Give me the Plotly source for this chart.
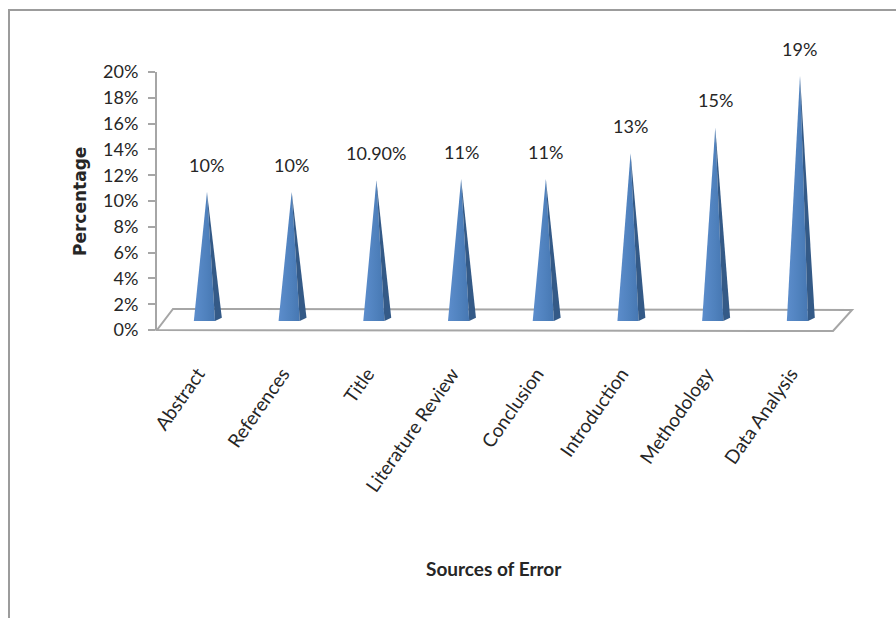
import plotly.graph_objects as go

# Sources of error and their share (%)
categories = ["Abstract", "References", "Title", "Literature Review",
              "Conclusion", "Introduction", "Methodology", "Data Analysis"]
values = [10, 10, 10.9, 11, 11, 13, 15, 19]
y_ticks = [0, 2, 4, 6, 8, 10, 12, 14, 16, 18, 20]

FONT = "Lato, Carlito, Calibri, Liberation Sans, sans-serif"
FRONT = "#4F81BD"
SIDE = "#345A87"

W, H = 896, 618
L, R, T, B = 157, 44, 72, 288          # plot area: x 157..852, y 72..330
PW, PH = W - L - R, H - T - B
X0, X1 = -0.59, 7.614                  # category index range
DEPTH_Y = 0.7                          # pyramids sit slightly behind the front edge


def fmt(v):
    return f"{v:.0f}%" if float(v).is_integer() else f"{v:.2f}%"


def px_x(px):
    return (px - L) / PW


def px_y(py):
    return (T + PH - py) / PH


fig = go.Figure()

# keeps the percentage axis attached to the subplot
fig.add_trace(go.Scatter(x=[None], y=[None], yaxis="y", mode="markers",
                         hoverinfo="skip", showlegend=False))

# pyramids: lit front face + darker right face
hw_l, hw_r, back_dx, back_dy = 0.155, 0.095, 0.175, 0.25
for i, v in enumerate(values):
    fig.add_trace(go.Scatter(
        x=[i - hw_l, i + hw_r, i, i - hw_l],
        y=[0, 0, v, 0],
        yaxis="y2", mode="lines", fill="toself",
        fillcolor=FRONT,
        fillgradient=dict(type="horizontal",
                          colorscale=[[0, "#5C8DCC"], [0.6, "#4F81BD"], [1, "#4677B2"]]),
        line=dict(width=0), hoverinfo="skip", showlegend=False,
    ))
    fig.add_trace(go.Scatter(
        x=[i + hw_r, i + back_dx, i, i + hw_r],
        y=[0, back_dy, v, 0],
        yaxis="y2", mode="lines", fill="toself",
        fillcolor=SIDE, line=dict(width=0), hoverinfo="skip",
        showlegend=False,
    ))

# value labels above each apex
for i, v in enumerate(values):
    fig.add_annotation(
        x=i, y=v, xref="x", yref="y2", text=fmt(v), showarrow=False,
        xanchor="center", yanchor="middle",
        yshift=27, font=dict(family=FONT, size=18, color="#262626"),
    )

shapes = []
# floor of the 3-D plot area
floor = [(157, 330), (833, 331), (852, 310), (173, 309)]
path = "M " + " L ".join(f"{px_x(a):.4f},{px_y(b):.4f}" for a, b in floor) + " Z"
shapes.append(dict(type="path", xref="paper", yref="paper", path=path,
                   line=dict(color="#A6A6A6", width=2), fillcolor="rgba(0,0,0,0)",
                   layer="below"))
# outer chart frame
shapes.append(dict(type="rect", xref="paper", yref="paper",
                   x0=px_x(9), x1=px_x(1000), y0=px_y(1000), y1=px_y(10),
                   line=dict(color="#9C9C9C", width=2), layer="below"))

fig.update_layout(
    width=W, height=H,
    margin=dict(l=L, r=R, t=T, b=B),
    paper_bgcolor="white", plot_bgcolor="white",
    showlegend=False,
    shapes=shapes,
    xaxis=dict(
        range=[X0, X1], tickmode="array",
        tickvals=list(range(len(categories))), ticktext=categories,
        tickangle=-55, showgrid=False, zeroline=False, showline=False,
        ticks="", ticklabelstandoff=28, ticklabelshift=-9,
        tickfont=dict(family=FONT, size=19, color="#262626"),
        fixedrange=True,
    ),
    yaxis=dict(
        range=[0, 20], tickmode="array", tickvals=y_ticks,
        ticktext=[f"{t}%" for t in y_ticks],
        showgrid=False, zeroline=False, showline=True, linecolor="#A6A6A6",
        linewidth=2, ticks="outside", ticklen=7, tickcolor="#A6A6A6",
        tickwidth=2, ticklabelstandoff=6,
        tickfont=dict(family=FONT, size=18, color="#262626"),
        fixedrange=True,
    ),
    yaxis2=dict(
        range=[-DEPTH_Y, 20 - DEPTH_Y], overlaying="y", visible=False,
        fixedrange=True,
    ),
)

fig.add_annotation(
    x=px_x(80), y=px_y(202), xref="paper", yref="paper", text="<b>Percentage</b>",
    textangle=-90, showarrow=False, xanchor="center", yanchor="middle",
    font=dict(family="DejaVu Sans", size=17, color="#262626"),
)
fig.add_annotation(
    x=px_x(494), y=px_y(568), xref="paper", yref="paper",
    text="<b>Sources of Error</b>", showarrow=False,
    xanchor="center", yanchor="middle",
    font=dict(family=FONT, size=19, color="#262626"),
)

fig.write_html("out.html")
